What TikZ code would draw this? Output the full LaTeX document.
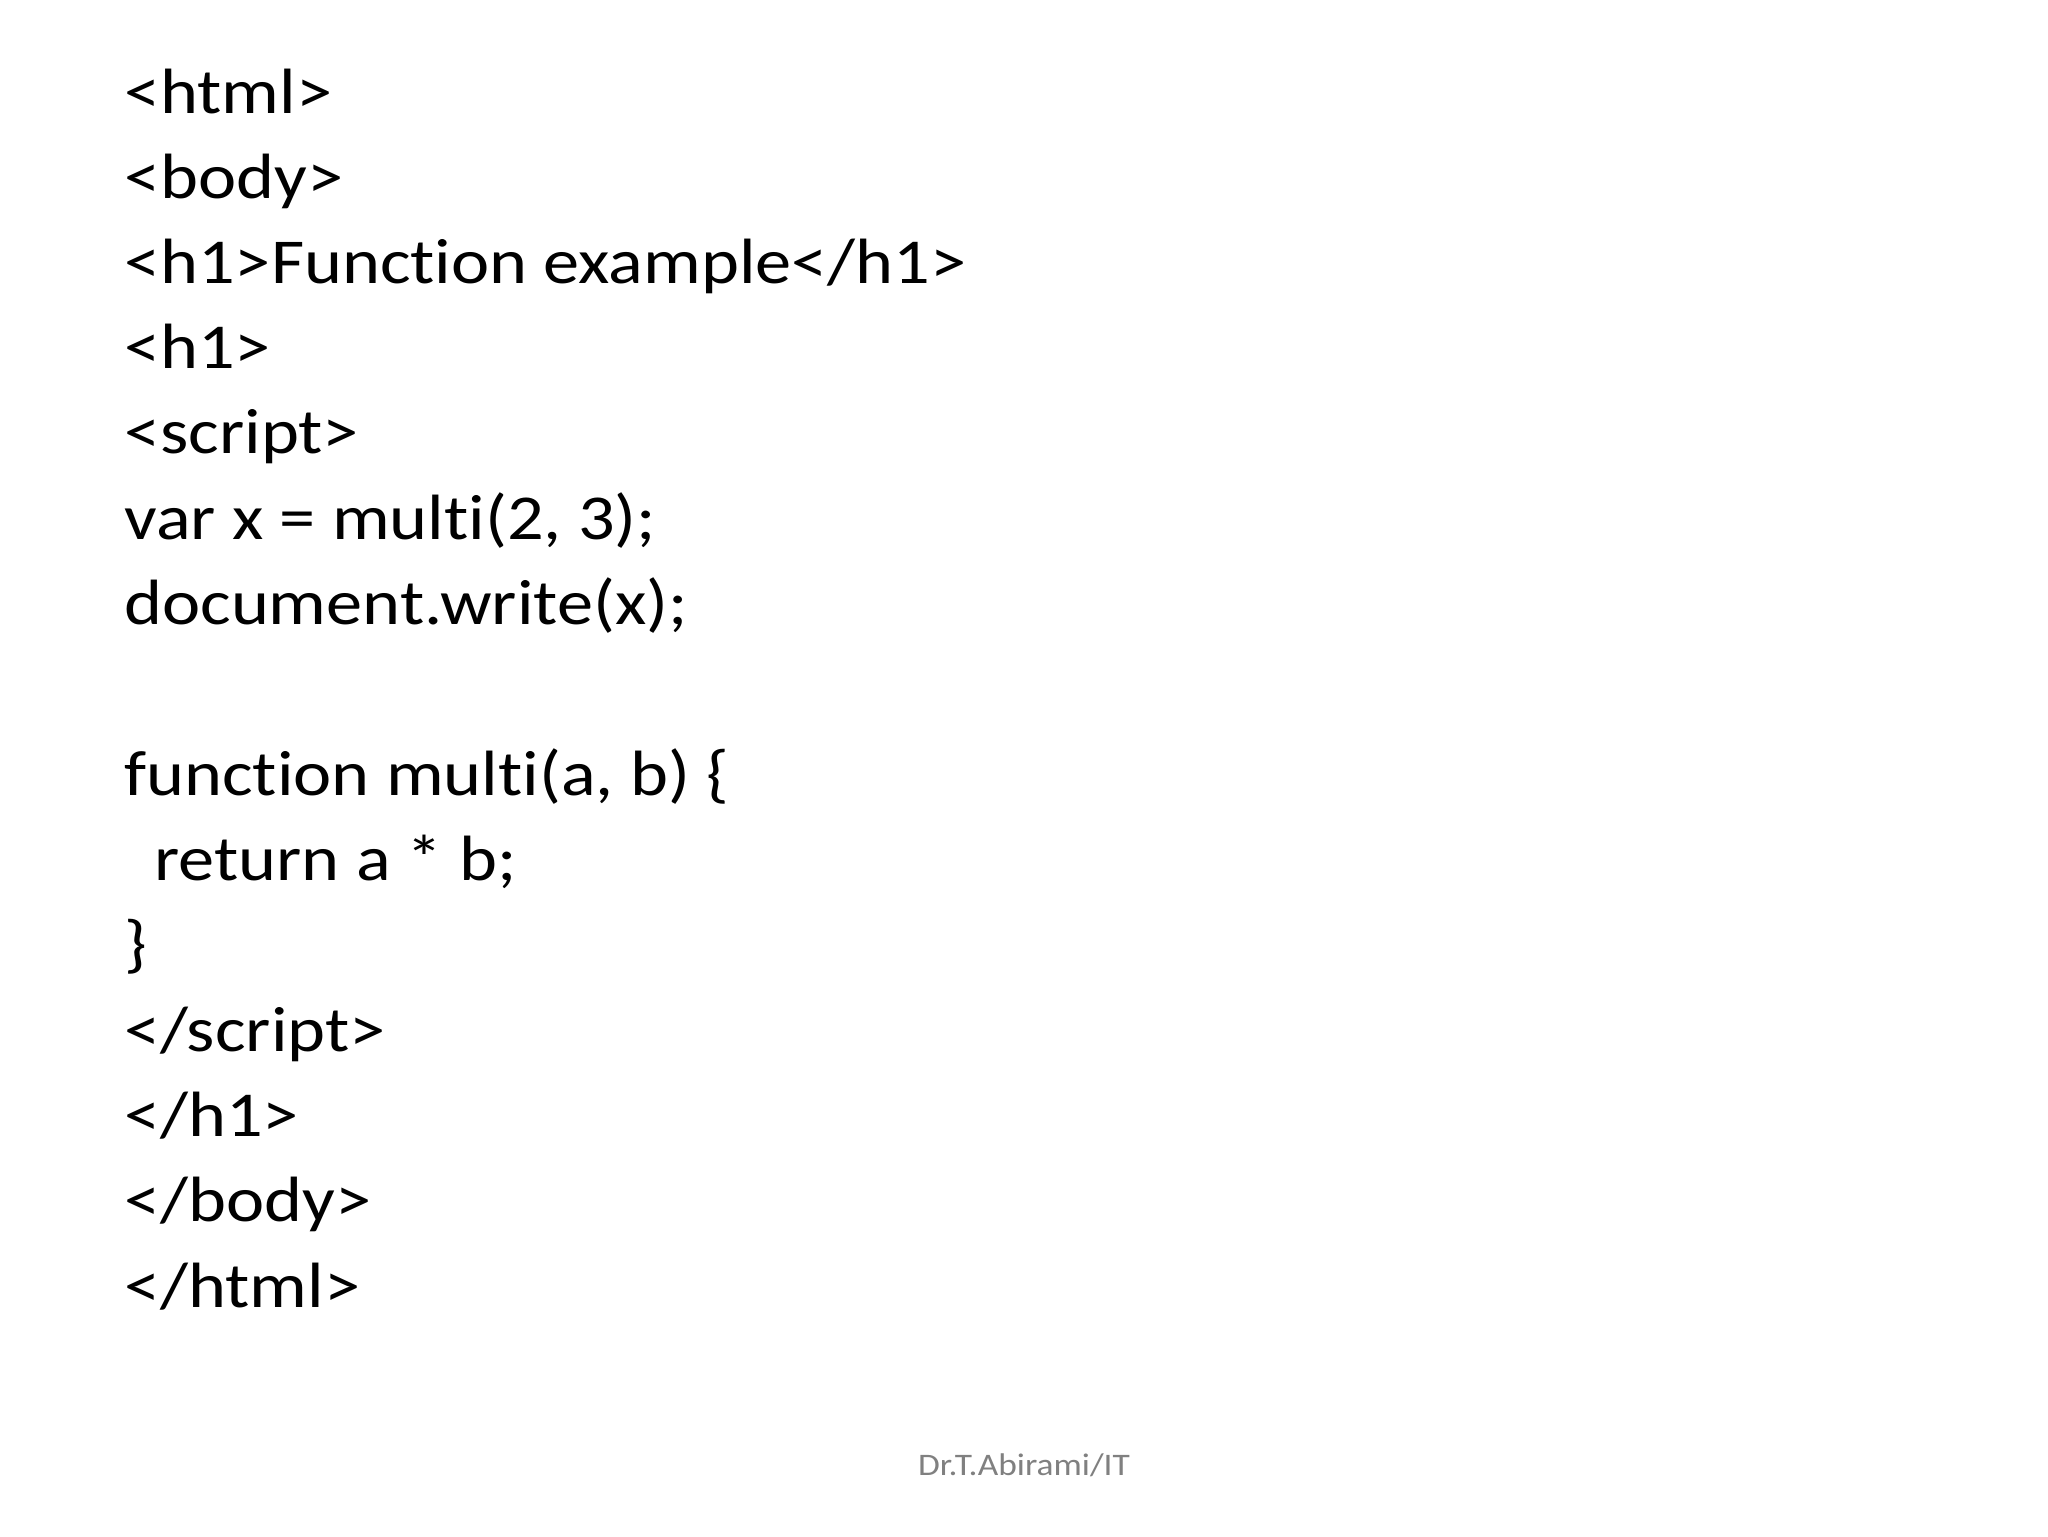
\documentclass[tikz,border=0pt]{standalone}
\usepackage{fontspec}
\setmainfont{Carlito}[FakeStretch=1.13,Ligatures=NoCommon]
\begin{document}
\begin{tikzpicture}[x=1pt,y=1pt,code/.style={anchor=base west,inner sep=0pt,font=\fontsize{49}{58}\selectfont}]
\useasboundingbox (0,0) rectangle (1568,-1176);
\node[code] (l1) at (95,-87) {<html>};
\node[code] (l2) at (95,-152) {<body>};
\node[code] (l3) at (95,-217) {<h1>Function example</h1>};
\node[code] (l4) at (95,-282) {<h1>};
\node[code] (l5) at (95,-347) {<script>};
\node[code] (l6) at (95,-413) {var x = multi(2, 3);};
\node[code] (l7) at (95,-478) {document.write(x);};
\node[code] (l8) at (95,-609) {function multi(a, b) \{};
\node[code] (l9) at (118,-674) {return a * b;};
\node[code] (l10) at (95,-739) {\}};
\node[code] (l11) at (95,-805) {</script>};
\node[code] (l12) at (95,-870) {</h1>};
\node[code] (l13) at (95,-935) {</body>};
\node[code] (l14) at (95,-1001) {</html>};
\node[anchor=base,inner sep=0pt,text=gray,font=\fontsize{24}{28}\selectfont] (ft) at (784,-1130) {Dr.T.Abirami/IT};
\end{tikzpicture}
\end{document}
